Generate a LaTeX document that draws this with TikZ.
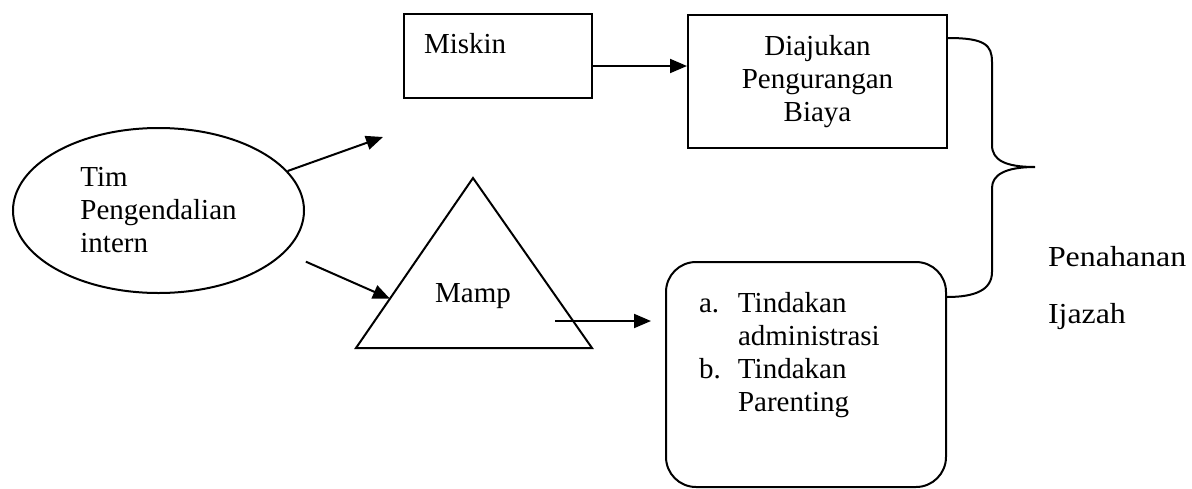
\documentclass[tikz,border=0pt]{standalone}
\usepackage{fontspec}
\setmainfont{Liberation Serif}
\newfontfamily\hurufLebar[FakeStretch=1.1]{Liberation Serif}
\usetikzlibrary{positioning, arrows.meta, calc, shapes.geometric}

\begin{document}
\begin{tikzpicture}[x=1pt, y=-1pt, line width=2pt,
		font=\fontsize{29}{33}\selectfont,
		arr/.style={-{Triangle[length=17pt,width=14pt]}},
		kotak/.style={draw, rectangle, inner sep=0pt}]
		\useasboundingbox (0,0) rectangle (1192,488);
		
		%Shapes
		\node (tim) at (158.5,210.5) [draw, ellipse, inner sep=0pt, minimum width=291pt, 
		minimum height=165pt, align=left]{Tim\\Pengendalian\hspace*{8pt}\\intern};
		\node (miskin) at (403,13) [kotak, anchor=north west, text width=148pt, align=left, 
		inner xsep=20pt, inner ysep=19pt, text height=20pt, text depth=26pt]{Miskin};
		\node (diajukan) at (817.5,81.5) [kotak, minimum width=259pt, minimum height=133pt, 
		align=center]{Diajukan\\Pengurangan\\Biaya};
		\node (tindakan) at (806,374.5) [draw, rounded corners=30pt, minimum width=280pt, 
		minimum height=225pt]{};
		\node (daftar) at (698,291) [anchor=north west, inner sep=0pt, align=left]
		{\makebox[39pt][l]{a.}Tindakan\\\hspace*{39pt}administrasi\\
		\makebox[39pt][l]{b.}Tindakan\\\hspace*{39pt}Parenting};
		
		%Triangle
		\coordinate (puncak) at (473,178);
		\coordinate (kiri) at (356,348);
		\coordinate (kanan) at (592,348);
		\draw (puncak) -- (kiri) -- (kanan) -- cycle;
		\node (mamp) at (473,296) {Mamp};
		
		%Arrows
		\coordinate (bebas) at (383,137);
		\coordinate (masuk) at ($(kiri)!0.29!(puncak)$);
		\coordinate (keluar) at (555,321);
		\draw[arr] (tim.17) -- (bebas);
		\draw[arr] ([shift={(22,8)}]tim.-19.5) -- (masuk);
		\draw[arr] (miskin.east |- 0,66) -- (diajukan.west |- 0,66);
		\draw[arr, shorten >=14pt] (keluar) -- (keluar -| tindakan.west);
		
		%Brace
		\draw (diajukan.east |- 0,38) .. controls (985,38) and (992,45) .. (992,62) -- (992,145) 
		.. controls (992,160) and (1005,167) .. (1035,167) 
		.. controls (1005,167) and (992,175) .. (992,188) -- (992,272) 
		.. controls (992,290) and (975,297) .. (tindakan.east |- 0,297);
		\node (penahanan) at (1047,245) [anchor=north west, inner sep=0pt, align=left, 
		font=\hurufLebar\fontsize{29}{57}\selectfont]{Penahanan\\Ijazah};
\end{tikzpicture}
\end{document}
